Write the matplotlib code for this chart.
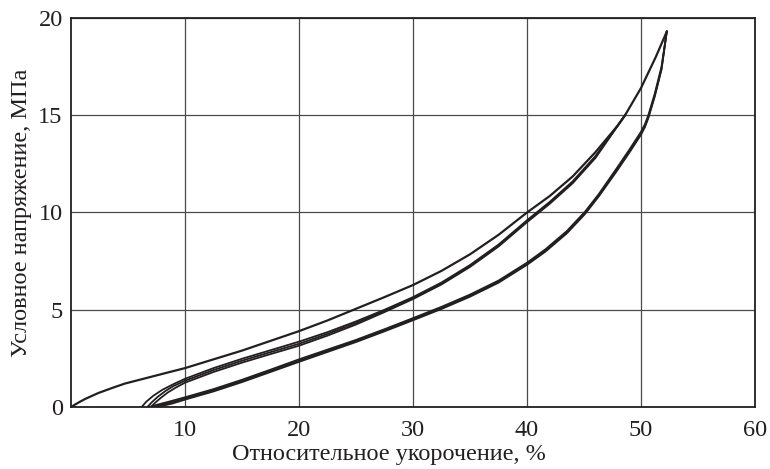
import matplotlib
matplotlib.use("Agg")
import matplotlib.pyplot as plt

plt.rcParams['font.family'] = ['Liberation Serif', 'DejaVu Serif']

# first loading
load_x = [0, 0.6, 1.23, 2.4, 3.57, 4.7, 6.35, 8, 10, 12.5, 15, 17.5, 20, 22.5, 25, 27.5,
          30, 32.5, 35, 37.5, 40, 42, 44, 46, 48, 48.6, 50, 51.3, 52.26]
load_y = [0, 0.21, 0.41, 0.72, 0.97, 1.2, 1.45, 1.7, 2.0, 2.45, 2.9, 3.4,
          3.9, 4.45, 5.05, 5.65, 6.27, 7.0, 7.85, 8.85, 10.0, 10.85, 11.85, 13.1,
          14.5, 15.0, 16.4, 18.0, 19.3]

# reloading, cycles 2-4
reload_x = [
    [6.2, 6.6, 7.2, 8, 9, 10, 12.5, 15, 17.5, 20, 22.5, 25, 27.5, 30, 32.5, 35, 37.5, 40, 42, 44, 46, 48.6],
    [6.7, 7.1, 7.6, 8.3, 9, 10, 12.5, 15, 17.5, 20, 22.5, 25, 27.5, 30, 32.5, 35, 37.5, 40, 42, 44, 46, 48.6],
    [7.0, 7.4, 7.9, 8.5, 9.2, 10, 12.5, 15, 17.5, 20, 22.5, 25, 27.5, 30, 32.5, 35, 37.5, 40, 42, 44, 46, 48.6],
]
reload_y = [
    [0, 0.27, 0.57, 0.88, 1.18, 1.45, 2.0, 2.48, 2.92, 3.36, 3.85, 4.4, 5.0, 5.65, 6.4, 7.3, 8.35, 9.6, 10.55, 11.6, 12.9, 15.0],
    [0, 0.25, 0.52, 0.83, 1.08, 1.35, 1.9, 2.38, 2.82, 3.25, 3.76, 4.32, 4.94, 5.6, 6.35, 7.25, 8.3, 9.55, 10.5, 11.55, 12.85, 15.0],
    [0, 0.23, 0.48, 0.75, 1.0, 1.25, 1.8, 2.28, 2.72, 3.15, 3.67, 4.24, 4.88, 5.55, 6.3, 7.2, 8.25, 9.5, 10.45, 11.5, 12.8, 15.0],
]

# unloading, cycles 1-3
unload_x = [
    [52.26, 51.8, 51.2, 50.64, 50.35, 50, 49, 47.9, 46.3, 45.1, 43.5, 41.6, 40, 37.5, 35, 32.5, 30, 27.5, 25, 22.5, 20, 17.5, 15, 12.5, 10, 8.5, 7.5, 6.9],
    [52.26, 51.8, 51.2, 50.64, 50.35, 50, 49, 47.9, 46.3, 45.1, 43.5, 41.6, 40, 37.5, 35, 32.5, 30, 27.5, 25, 22.5, 20, 17.5, 15, 12.5, 10, 8.7, 7.8, 7.2],
    [52.26, 51.8, 51.2, 50.64, 50.35, 50, 49, 47.9, 46.3, 45.1, 43.5, 41.6, 40, 37.5, 35, 32.5, 30, 27.5, 25, 22.5, 20, 17.5, 15, 12.5, 10, 8.9, 8.1, 7.5],
]
unload_y = [
    [19.3, 17.5, 16.1, 15.0, 14.55, 14.15, 13.25, 12.3, 10.95, 10.05, 9.05, 8.1, 7.42, 6.5, 5.78, 5.15, 4.57, 4.0, 3.45, 2.95, 2.45, 1.92, 1.4, 0.92, 0.5, 0.26, 0.11, 0],
    [19.3, 17.4, 16.0, 14.9, 14.45, 14.05, 13.15, 12.2, 10.88, 9.98, 8.98, 8.03, 7.36, 6.44, 5.72, 5.09, 4.51, 3.94, 3.39, 2.89, 2.38, 1.86, 1.34, 0.86, 0.44, 0.22, 0.09, 0],
    [19.3, 17.35, 15.95, 14.85, 14.4, 14.0, 13.1, 12.15, 10.83, 9.93, 8.93, 7.98, 7.31, 6.39, 5.67, 5.04, 4.46, 3.89, 3.34, 2.83, 2.32, 1.8, 1.28, 0.8, 0.38, 0.18, 0.07, 0],
]

x_ticks = [10, 20, 30, 40, 50, 60]
y_ticks = [0, 5, 10, 15, 20]

line_col = '#231f20'

fig = plt.figure(figsize=(7.7, 4.69), dpi=100)
ax = fig.add_axes([71 / 770, 62 / 469, 684 / 770, 389 / 469])

ax.grid(True, color='#4a4a4a', linewidth=0.9, zorder=0)

for xs, ys in zip(reload_x, reload_y):
    ax.plot(xs, ys, color=line_col, linewidth=1.3, zorder=3)
for xs, ys in zip(unload_x, unload_y):
    ax.plot(xs, ys, color=line_col, linewidth=1.3, zorder=3)
ax.plot(load_x, load_y, color=line_col, linewidth=1.6, zorder=4)

ax.set_xlim(0, 60)
ax.set_ylim(0, 20)
ax.set_xticks(x_ticks)
ax.set_yticks(y_ticks)
ax.tick_params(length=0, labelsize=17.5, colors='#231f20')
ax.tick_params(axis='y', pad=6)
ax.tick_params(axis='x', pad=9)
for s in ax.spines.values():
    s.set_linewidth(1.3)
    s.set_color('#231f20')

ax.set_xlabel('Относительное укорочение, %', fontsize=17.5, color='#231f20')
ax.set_ylabel('Условное напряжение, МПа', fontsize=17.5, color='#231f20')
ax.xaxis.set_label_coords(0.465, -0.095)
ax.yaxis.set_label_coords(-0.057, 0.5)

fig.savefig('out.png', dpi=100)
